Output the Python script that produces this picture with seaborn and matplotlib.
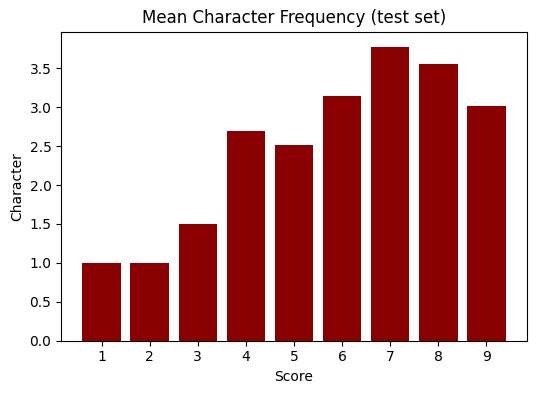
import matplotlib
matplotlib.use("Agg")
import matplotlib.pyplot as plt
import seaborn as sns
import pandas as pd

scores = [1, 2, 3, 4, 5, 6, 7, 8, 9]
mean_freq = [1.0, 1.0, 1.5, 2.69, 2.52, 3.14, 3.78, 3.55, 3.01]

df = pd.DataFrame({"Score": scores, "Character": mean_freq})

fig, ax = plt.subplots(figsize=(5.36, 3.93), dpi=100)
fig.subplots_adjust(left=0.114, right=0.983, top=0.919, bottom=0.133)
sns.barplot(data=df, x="Score", y="Character", native_scale=True,
            color="#8b0000", saturation=1, width=0.8, linewidth=0, ax=ax)
ax.set_xlim(0.16, 9.84)
ax.set_xticks(scores)
ax.set_title("Mean Character Frequency (test set)")
ax.set_xlabel("Score")
ax.set_ylabel("Character")
fig.savefig("out.png", dpi=100)
